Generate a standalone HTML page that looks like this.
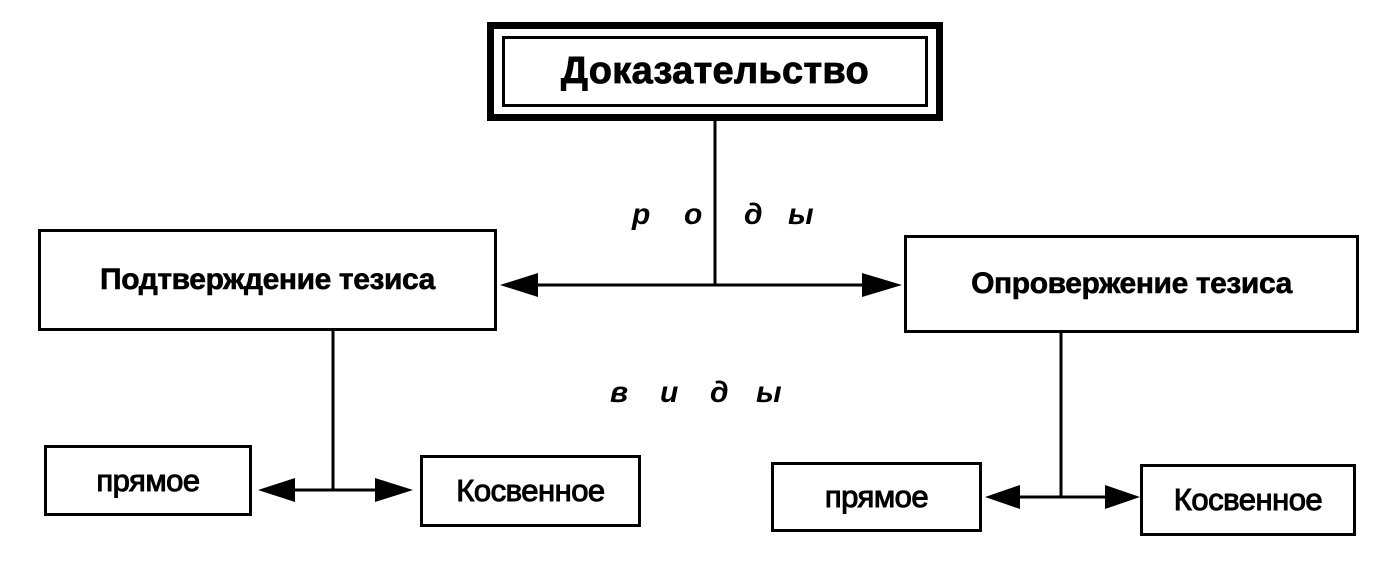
<!DOCTYPE html>
<html><head><meta charset="utf-8"><style>
body{margin:0;background:#fff;width:1386px;height:565px;overflow:hidden;position:relative;font-family:"Liberation Sans","DejaVu Sans",sans-serif}
.b{position:absolute;border:3px solid #000;box-sizing:border-box;display:flex;align-items:center;justify-content:center;font-weight:bold;color:#000;white-space:nowrap}
.s{font-size:31px;font-weight:normal;-webkit-text-stroke:1px #000;letter-spacing:-0.5px}
.t{position:absolute;font-style:italic;font-weight:bold;font-size:30px}
</style></head><body>
<div class="b" style="left:487px;top:22px;width:456px;height:99px;border-width:7px"></div>
<div class="b" style="left:502px;top:36px;width:426px;height:71px;font-size:38px;-webkit-text-stroke:0.8px #000;letter-spacing:0.3px">Доказательство</div>
<div class="b" style="left:38px;top:229px;width:459px;height:102px;font-size:30px;-webkit-text-stroke:0.6px #000;letter-spacing:-0.4px">Подтверждение тезиса</div>
<div class="b" style="left:904px;top:235px;width:455px;height:98px;font-size:30px;-webkit-text-stroke:0.6px #000;letter-spacing:-0.4px">Опровержение тезиса</div>
<div class="b s" style="left:44px;top:445px;width:208px;height:71px">прямое</div>
<div class="b s" style="left:420px;top:455px;width:221px;height:72px">Косвенное</div>
<div class="b s" style="left:771px;top:462px;width:211px;height:70px">прямое</div>
<div class="b s" style="left:1140px;top:464px;width:216px;height:72px">Косвенное</div>
<div class="t" style="left:632px;top:198px">р</div>
<div class="t" style="left:684px;top:198px">о</div>
<div class="t" style="left:744px;top:198px">д</div>
<div class="t" style="left:788px;top:198px">ы</div>
<div class="t" style="left:610px;top:376px">в</div>
<div class="t" style="left:660px;top:376px">и</div>
<div class="t" style="left:710px;top:376px">д</div>
<div class="t" style="left:756px;top:376px">ы</div>
<svg width="1386" height="565" style="position:absolute;left:0;top:0">
<g stroke="#000" stroke-width="3" fill="none">
<line x1="715" y1="121" x2="715" y2="286"/>
<line x1="530" y1="285" x2="870" y2="285"/>
<line x1="333" y1="331" x2="333" y2="490"/>
<line x1="290" y1="490" x2="385" y2="490"/>
<line x1="1061" y1="333" x2="1061" y2="498"/>
<line x1="1010" y1="497" x2="1110" y2="497"/>
</g>
<g fill="#000">
<polygon points="500,285 538,273 538,297"/>
<polygon points="902,285 862,273 862,297"/>
<polygon points="258,490 295,478 295,502"/>
<polygon points="413,490 375,478 375,502"/>
<polygon points="985,497 1020,485 1020,509"/>
<polygon points="1140,497 1105,485 1105,509"/>
</g>
</svg>
</body></html>
